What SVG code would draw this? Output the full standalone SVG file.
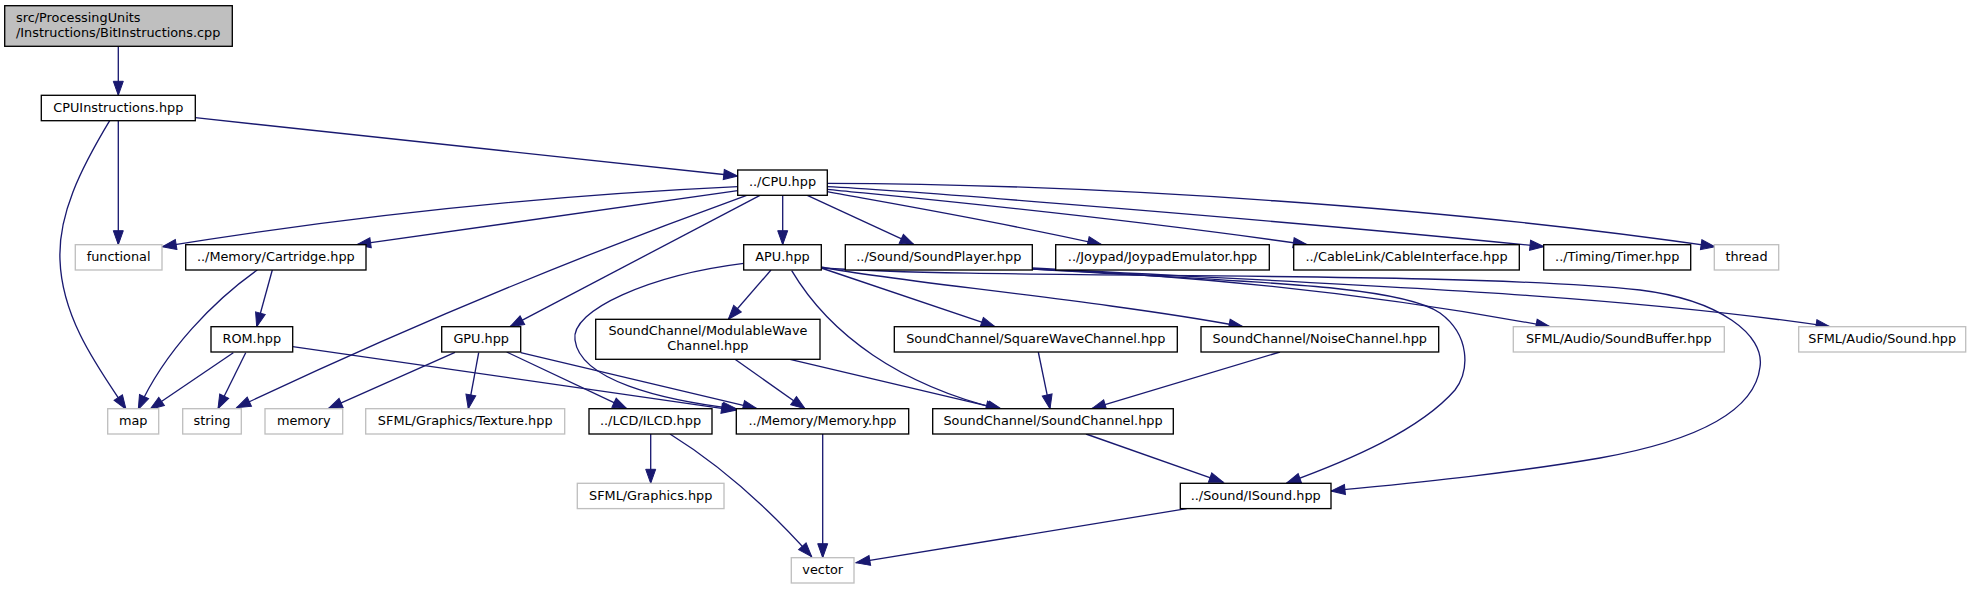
<svg xmlns="http://www.w3.org/2000/svg" width="1975" height="589" viewBox="0 0 1975 589">
<style>
.n rect{fill:#fff;stroke:#000;stroke-width:1.33}
.g rect{fill:#fff;stroke:#bfbfbf;stroke-width:1.33}
.root rect{fill:#bfbfbf;stroke:#000;stroke-width:1.33}
text{font-family:"DejaVu Sans",sans-serif;font-size:12.85px;fill:#000}
.c{text-anchor:middle}
#edges path{fill:none;stroke:#191970;stroke-width:1.33;marker-end:url(#ah)}
</style>
<defs>
<marker id="ah" markerUnits="userSpaceOnUse" viewBox="0 0 15 11" markerWidth="15" markerHeight="11" refX="14" refY="5.5" orient="auto" overflow="visible">
<path d="M0,0.5 L14,5.5 L0,10.5 z" fill="#191970" stroke="#191970" stroke-width="1"/>
</marker>
</defs>
<rect width="1975" height="589" fill="#fff"/>
<g id="edges">
<path d="M118.3,46.3 L118.3,95.3"/>
<path d="M118.3,120.7 L118.3,244.7"/>
<path d="M109.7,120.7 C80,170 58,215 60,260 C62,320 100,370 126,409.3"/>
<path d="M195.3,117.7 L737.7,176"/>
<path d="M737.7,186.7 Q450,200 162.3,246.7"/>
<path d="M737.7,190.7 L356.7,244.7"/>
<path d="M746.7,195.3 Q490,288 236.7,407.7"/>
<path d="M760,195.3 L510,326.7"/>
<path d="M782.7,195.3 L782.7,244.7"/>
<path d="M807.3,195.3 L914,244.7"/>
<path d="M827.3,191.7 C900,205 1000,222 1101.7,244.7"/>
<path d="M827.3,189.3 C900,196.7 1100,215 1307.3,244.7"/>
<path d="M827.3,186.7 C900,190 1300,222 1544,246.7"/>
<path d="M827.3,183.3 C1100,184 1450,208 1715,246.7"/>
<path d="M272.3,270 L256.7,326.7"/>
<path d="M257.3,270 C215,300 165,350 138.3,409.3"/>
<path d="M233.3,352.7 L150,409.3"/>
<path d="M245.7,352.7 L218,408.7"/>
<path d="M292.7,346.7 L735.5,410.3"/>
<path d="M455,352.3 L328.3,408.7"/>
<path d="M478.7,352.7 L468.3,408.7"/>
<path d="M506.7,352 L626.7,408.7"/>
<path d="M520.7,352.7 L757,408.7"/>
<path d="M771,270 L728.3,319.3"/>
<path d="M743.7,263.3 C650,275 570,310 575,340 C580,380 660,400 737,409"/>
<path d="M821.3,268 L995,326.7"/>
<path d="M821.3,267 C880,280 1100,300 1243,326.7"/>
<path d="M791.7,270.7 C830,335 900,385 1000,409.3"/>
<path d="M821.3,268 C1000,280 1450,270 1640,290 C1720,300 1765,335 1760,367 C1755,410 1700,440 1600,458 C1500,475 1400,484 1331,491"/>
<path d="M1032,269 Q1300,280 1550,326.7"/>
<path d="M1032,268 C1300,283 1600,292 1830,326.7"/>
<path d="M1032,269 C1250,282 1400,285 1440,313 C1470,335 1470,370 1455,390 C1420,430 1350,460 1286.7,483"/>
<path d="M735,359.3 L805,408.7"/>
<path d="M790,359.3 L1002,409.3"/>
<path d="M1038.3,352 L1050,408.7"/>
<path d="M1280,352 L1091.7,408.7"/>
<path d="M1086,434 L1223.3,482.3"/>
<path d="M1186.7,508.7 L856,562.7"/>
<path d="M822.7,434 L822.7,557.7"/>
<path d="M670,434 C720,465 770,510 811.7,556.7"/>
<path d="M650.7,434 L650.7,483.3"/>
</g>
<g id="node-root" class="root"><rect x="4.7" y="5.7" width="227.6" height="40.6"/><text x="16" y="21.5">src/ProcessingUnits</text><text x="16" y="36.5">/Instructions/BitInstructions.cpp</text></g>
<g id="node-cpuinstructions" class="n"><rect x="41.3" y="95.3" width="154" height="25.4"/><text class="c" x="118.3" y="111.6">CPUInstructions.hpp</text></g>
<g id="node-cpu" class="n"><rect x="737.7" y="170" width="89.6" height="25.3"/><text class="c" x="782.5" y="186.3">../CPU.hpp</text></g>
<g id="node-functional" class="g"><rect x="75.3" y="244.7" width="86.7" height="25.3"/><text class="c" x="118.6" y="261">functional</text></g>
<g id="node-cartridge" class="n"><rect x="185.7" y="244.7" width="180.3" height="25.3"/><text class="c" x="275.8" y="261">../Memory/Cartridge.hpp</text></g>
<g id="node-apu" class="n"><rect x="743.7" y="244.7" width="77.6" height="25.3"/><text class="c" x="782.5" y="261">APU.hpp</text></g>
<g id="node-soundplayer" class="n"><rect x="845.3" y="244.7" width="187" height="25.3"/><text class="c" x="938.8" y="261">../Sound/SoundPlayer.hpp</text></g>
<g id="node-joypad" class="n"><rect x="1055.7" y="244.7" width="213.6" height="25.3"/><text class="c" x="1162.5" y="261">../Joypad/JoypadEmulator.hpp</text></g>
<g id="node-cable" class="n"><rect x="1293.7" y="244.7" width="225.6" height="25.3"/><text class="c" x="1406.5" y="261">../CableLink/CableInterface.hpp</text></g>
<g id="node-timer" class="n"><rect x="1543.7" y="244.7" width="147" height="25.3"/><text class="c" x="1617.2" y="261">../Timing/Timer.hpp</text></g>
<g id="node-thread" class="g"><rect x="1714.3" y="244.7" width="64.4" height="25.3"/><text class="c" x="1746.5" y="261">thread</text></g>
<g id="node-rom" class="n"><rect x="211" y="326.7" width="81.7" height="25.3"/><text class="c" x="251.8" y="343">ROM.hpp</text></g>
<g id="node-gpu" class="n"><rect x="441.7" y="326.7" width="79" height="25.3"/><text class="c" x="481.2" y="343">GPU.hpp</text></g>
<g id="node-modwave" class="n"><rect x="595.7" y="319.3" width="224.3" height="40"/><text class="c" x="707.9" y="334.8">SoundChannel/ModulableWave</text><text class="c" x="707.9" y="349.8">Channel.hpp</text></g>
<g id="node-squarewave" class="n"><rect x="894.3" y="326.7" width="283" height="25.3"/><text class="c" x="1035.8" y="343">SoundChannel/SquareWaveChannel.hpp</text></g>
<g id="node-noise" class="n"><rect x="1201" y="326.7" width="237.7" height="25.3"/><text class="c" x="1319.8" y="343">SoundChannel/NoiseChannel.hpp</text></g>
<g id="node-soundbuffer" class="g"><rect x="1513.3" y="326.7" width="211" height="25.3"/><text class="c" x="1618.8" y="343">SFML/Audio/SoundBuffer.hpp</text></g>
<g id="node-sound" class="g"><rect x="1798.7" y="326.7" width="167" height="25.3"/><text class="c" x="1882.2" y="343">SFML/Audio/Sound.hpp</text></g>
<g id="node-map" class="g"><rect x="107.7" y="408.7" width="51" height="25.3"/><text class="c" x="133.2" y="425">map</text></g>
<g id="node-string" class="g"><rect x="182.7" y="408.7" width="58.6" height="25.3"/><text class="c" x="212" y="425">string</text></g>
<g id="node-memory" class="g"><rect x="265" y="408.7" width="77.7" height="25.3"/><text class="c" x="303.8" y="425">memory</text></g>
<g id="node-texture" class="g"><rect x="365.7" y="408.7" width="199" height="25.3"/><text class="c" x="465.2" y="425">SFML/Graphics/Texture.hpp</text></g>
<g id="node-ilcd" class="n"><rect x="589" y="408.7" width="123" height="25.3"/><text class="c" x="650.5" y="425">../LCD/ILCD.hpp</text></g>
<g id="node-memoryhpp" class="n"><rect x="736.3" y="408.7" width="172.4" height="25.3"/><text class="c" x="822.5" y="425">../Memory/Memory.hpp</text></g>
<g id="node-soundchannel" class="n"><rect x="932.7" y="408.7" width="240.6" height="25.3"/><text class="c" x="1053" y="425">SoundChannel/SoundChannel.hpp</text></g>
<g id="node-graphics" class="g"><rect x="577.3" y="483.3" width="146.7" height="25.3"/><text class="c" x="650.7" y="499.6">SFML/Graphics.hpp</text></g>
<g id="node-isound" class="n"><rect x="1180.3" y="483.3" width="150.7" height="25.3"/><text class="c" x="1255.7" y="499.6">../Sound/ISound.hpp</text></g>
<g id="node-vector" class="g"><rect x="791.3" y="557.7" width="62.7" height="25.3"/><text class="c" x="822.7" y="574">vector</text></g>
</svg>
